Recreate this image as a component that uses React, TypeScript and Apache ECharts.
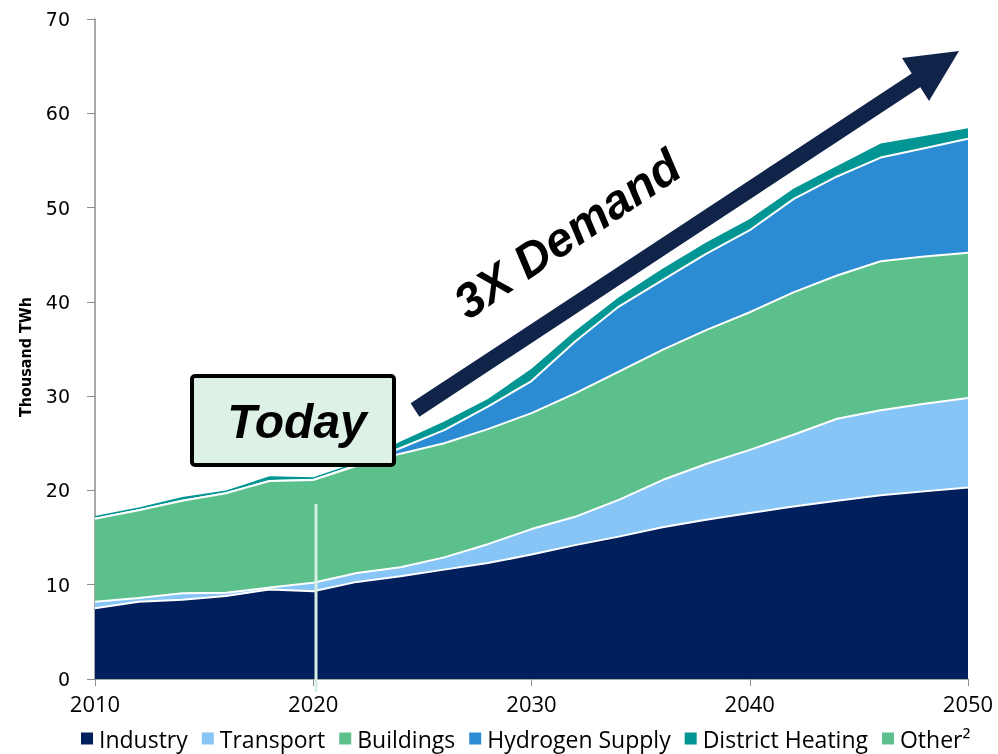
import React, { useEffect, useRef } from "react";
import * as echarts from "echarts";

const years = ["2010", "2012", "2014", "2016", "2018", "2020", "2022", "2024", "2026", "2028", "2030", "2032", "2034", "2036", "2038", "2040", "2042", "2044", "2046", "2048", "2050"];

const industry = [7.5, 8.2, 8.4, 8.8, 9.5, 9.3, 10.3, 10.9, 11.6, 12.3, 13.2, 14.2, 15.1, 16.1, 16.9, 17.6, 18.3, 18.9, 19.5, 19.9, 20.3];
const transport = [0.7, 0.4, 0.7, 0.35, 0.2, 0.9, 0.95, 0.95, 1.3, 2.0, 2.7, 3.0, 3.9, 5.0, 5.9, 6.7, 7.6, 8.7, 9.0, 9.3, 9.5];
const buildings = [8.8, 9.3, 9.8, 10.55, 11.3, 10.9, 11.35, 12.05, 12.1, 12.2, 12.3, 13.1, 13.6, 13.8, 14.2, 14.6, 15.1, 15.2, 15.8, 15.6, 15.4];
const hydrogen = [0, 0, 0, 0, 0, 0, 0.1, 0.6, 1.4, 2.4, 3.4, 5.5, 6.9, 7.4, 8.1, 8.7, 9.9, 10.5, 11.0, 11.5, 12.1];
const districtHeating = [0.3, 0.3, 0.4, 0.3, 0.5, 0.3, 0.25, 0.7, 0.9, 0.8, 1.3, 1.1, 1.0, 1.2, 1.2, 1.2, 1.1, 1.1, 1.5, 1.3, 1.1];
const other = [0, 0, 0, 0, 0, 0, 0, 0, 0, 0, 0, 0, 0, 0, 0, 0, 0, 0, 0, 0, 0];

const seriesNames = ["Industry", "Transport", "Buildings", "Hydrogen Supply", "District Heating", "Other²"];
const seriesColors = ["#001f5c", "#88c5f7", "#5cc08c", "#2b8cd3", "#019593", "#5cc08c"];
const seriesValues = [industry, transport, buildings, hydrogen, districtHeating, other];
const lineWidths = [2, 2, 2, 2, 0, 0];

const yTicks = { min: 0, max: 70, interval: 10 };
const xLabelEvery = 5;

export default function App() {
  const ref = useRef<HTMLDivElement>(null);
  useEffect(() => {
    if (!ref.current) return;
    const chart = echarts.init(ref.current, null, { renderer: "svg" });
    const series = seriesNames.map((name, i) => ({
      name,
      type: "line",
      stack: "total",
      symbol: "none",
      showSymbol: false,
      z: 10 - i,
      data: seriesValues[i],
      itemStyle: { color: seriesColors[i] },
      lineStyle: { color: "#ffffff", width: lineWidths[i] },
      areaStyle: { color: seriesColors[i], opacity: 1 },
    }));
    chart.setOption({
      animation: false,
      grid: { left: 95, right: 30, top: 19, bottom: 75, containLabel: false },
      xAxis: {
        type: "category",
        data: years,
        boundaryGap: false,
        axisLine: { show: true, lineStyle: { color: "#8c8c8c", width: 1.5 } },
        axisTick: { show: true, length: 7, interval: xLabelEvery - 1, lineStyle: { color: "#8c8c8c" } },
        splitLine: { show: false },
        axisLabel: {
          interval: xLabelEvery - 1,
          margin: 13,
          color: "#000",
          fontSize: 22,
          fontFamily: "'Open Sans', sans-serif",
        },
      },
      yAxis: {
        type: "value",
        min: yTicks.min,
        max: yTicks.max,
        interval: yTicks.interval,
        axisLine: { show: true, lineStyle: { color: "#8c8c8c", width: 1.5 } },
        axisTick: { show: true, length: 8, inside: false, lineStyle: { color: "#8c8c8c" } },
        splitLine: { show: false },
        axisLabel: {
          margin: 25,
          color: "#000",
          fontSize: 19,
          fontFamily: "'DejaVu Sans', sans-serif",
        },
      },
      legend: {
        left: 81,
        top: 727,
        padding: 0,
        icon: "rect",
        itemWidth: 12,
        itemHeight: 12,
        itemGap: 14,
        textStyle: { color: "#000", fontSize: 23, lineHeight: 23, fontFamily: "'Open Sans', sans-serif", padding: [0, 0, 0, 1] },
        data: seriesNames.map((n, i) => ({ name: n, itemStyle: { color: seriesColors[i], borderWidth: 0 } })),
      },
      series,
      graphic: [
        {
          type: "text",
          z: 101,
          x: 25,
          y: 357,
          rotation: Math.PI / 2,
          style: {
            text: "Thousand TWh",
            fill: "#000",
            font: "bold 16px 'Liberation Sans Narrow', 'DejaVu Sans Condensed', sans-serif",
            align: "center",
            verticalAlign: "middle",
          },
        },
        {
          type: "line",
          z: 100,
          shape: { x1: 316, y1: 504, x2: 316, y2: 692 },
          style: { stroke: "#d7eee3", lineWidth: 3 },
        },
        {
          type: "rect",
          z: 100,
          shape: { x: 192, y: 376, width: 202, height: 89, r: 3 },
          style: { fill: "#ddf1e7", stroke: "#000", lineWidth: 4 },
        },
        {
          type: "text",
          z: 101,
          x: 297,
          y: 421,
          style: {
            text: "Today",
            fill: "#000",
            font: "italic bold 48px 'Liberation Sans', Arial, sans-serif",
            align: "center",
            verticalAlign: "middle",
          },
        },
        {
          type: "line",
          z: 100,
          shape: { x1: 415, y1: 410, x2: 918, y2: 79 },
          style: { stroke: "#10244a", lineWidth: 16 },
        },
        {
          type: "polygon",
          z: 100,
          shape: { points: [[959, 51], [902, 58], [929, 101]] },
          style: { fill: "#10244a" },
        },
        {
          type: "text",
          z: 101,
          x: 567,
          y: 234,
          rotation: (34 * Math.PI) / 180,
          style: {
            text: "3X Demand",
            fill: "#000",
            font: "italic bold 48px 'Liberation Sans', Arial, sans-serif",
            align: "center",
            verticalAlign: "middle",
          },
        },
      ],
    });
    return () => chart.dispose();
  }, []);
  return <div ref={ref} style={{ position: "fixed", left: 0, top: 0, width: 998, height: 754 }} />;
}
